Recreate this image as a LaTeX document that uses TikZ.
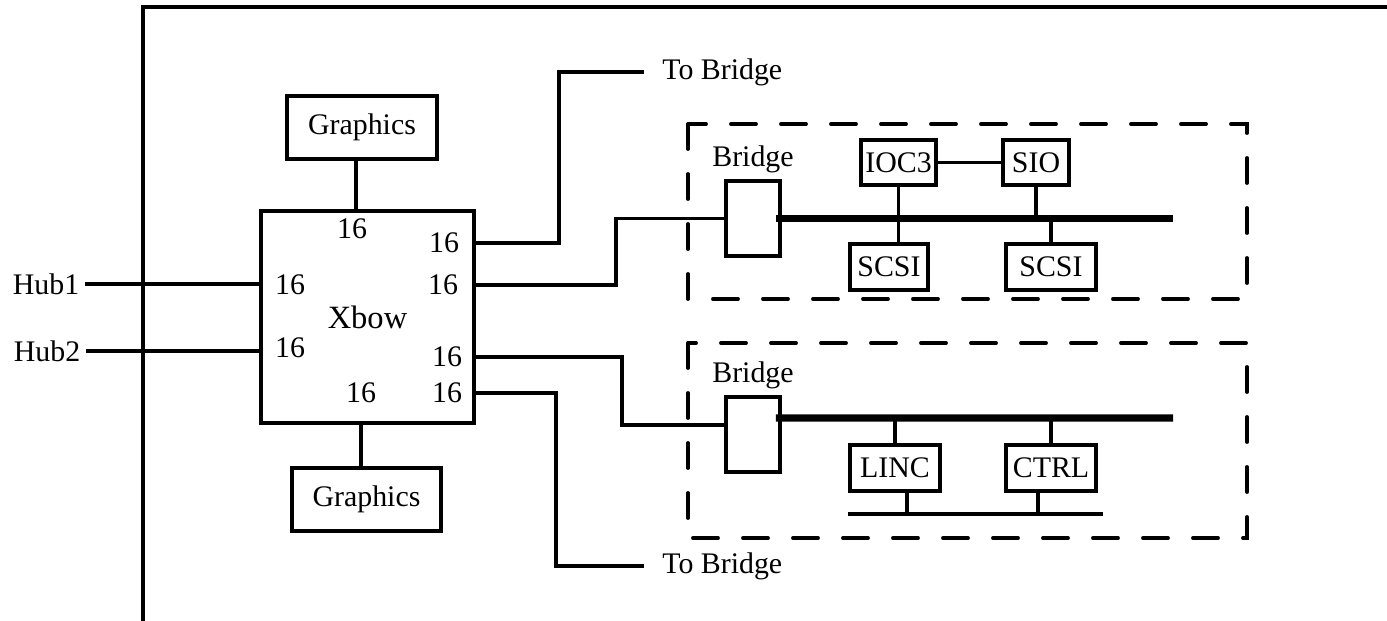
\documentclass[tikz,border=0pt]{standalone}
\usepackage{fontspec}
\setmainfont{Liberation Serif}
\usetikzlibrary{positioning}
\tikzset{
  lbl/.style={font=\fontsize{17}{20}\selectfont},
  port/.style={lbl, inner sep=1pt},
  unit/.style={rectangle, draw=black, line width=2pt, inner sep=0pt,
               align=center, font=\fontsize{17}{20}\selectfont},
  wire/.style={line width=2pt},
  bus/.style={line width=4pt},
  frame/.style={line width=2.2pt},
  grp/.style={line width=2.2pt, dash pattern=on 0.5cm off 0.5cm, line cap=round},
}

\begin{document}
\begin{tikzpicture}
\useasboundingbox (0,0) rectangle (27.74,-12.42);

%% =====================================================================
%% outer frame, open at the right and at the bottom
%% =====================================================================
\draw[frame] (27.74,-0.14) -| (2.86,-12.42);

%% =====================================================================
%% Xbow with its eight 16-bit ports
%% =====================================================================
\node[unit, minimum width=4.26cm, minimum height=4.24cm,
      font=\fontsize{18.5}{22}\selectfont] (xbow) at (7.35,-6.34) {Xbow};

\node[port] (p1) at (7.04,-4.58) {16};
\node[port] (p2) at (8.88,-4.86) {16};
\node[port] (p3) at (5.80,-5.70) {16};
\node[port] (p4) at (8.86,-5.70) {16};
\node[port] (p5) at (5.80,-6.96) {16};
\node[port] (p6) at (8.94,-7.14) {16};
\node[port] (p7) at (7.22,-7.86) {16};
\node[port] (p8) at (8.94,-7.86) {16};

%% graphics above and below
\node[unit, minimum width=3.00cm, minimum height=1.26cm] (gfxt) at (7.24,-2.55) {Graphics};
\node[unit, minimum width=2.98cm, minimum height=1.26cm] (gfxb) at (7.33,-9.99) {Graphics};
\draw[wire] ([xshift=-0.12cm]gfxt.south) -- ([xshift=-0.12cm]gfxt.south |- xbow.north);
\draw[wire] ([xshift=-0.11cm]gfxb.north) -- ([xshift=-0.11cm]gfxb.north |- xbow.south);

%% hubs on the left
\node[lbl] (hub1) at (0.92,-5.68) {Hub1};
\node[lbl] (hub2) at (0.94,-7.02) {Hub2};
\draw[wire] (hub1.east) -- (hub1 -| xbow.west);
\draw[wire] (hub2.east) -- (hub2 -| xbow.west);

%% links to other bridges
\node[lbl, anchor=west, inner xsep=0.36cm] (tbt) at (12.88,-1.44)  {To Bridge};
\node[lbl, anchor=west, inner xsep=0.36cm] (tbb) at (12.88,-11.32) {To Bridge};
\draw[wire] (p2 -| xbow.east) -- ++(1.66,0) |- (tbt.west);
\draw[wire] (p8 -| xbow.east) -- ++(1.60,0) |- (tbb.west);

%% =====================================================================
%% upper I/O group: Bridge, IOC3, SIO, two SCSI
%% =====================================================================
\draw[grp] (13.76,-2.48) rectangle (24.94,-5.98);

\node[unit, minimum width=1.08cm, minimum height=1.5cm] (br1) at (15.06,-4.37) {};
\node[lbl, above=0pt of br1] (br1l) {Bridge};
\coordinate (b1end) at (23.46,-4.37);
\draw[bus] ([xshift=-0.12cm]br1.east) -- (b1end);

\node[unit, minimum width=1.50cm, minimum height=0.90cm] (ioc3)  at (17.97,-3.25) {IOC3};
\node[unit, minimum width=1.32cm, minimum height=0.90cm] (sio)   at (20.72,-3.25) {SIO};
\node[unit, minimum width=1.56cm, minimum height=0.92cm] (scsi1) at (17.78,-5.34) {SCSI};
\node[unit, minimum width=1.80cm, minimum height=0.92cm] (scsi2) at (21.02,-5.34) {SCSI};

\draw[wire] (ioc3.east) -- (sio.west);
\draw[wire] (ioc3.south) -- (ioc3.south |- scsi1.north);
\draw[wire] (sio.south) -- (sio.south |- b1end);
\draw[wire] (scsi2.north) -- (scsi2.north |- b1end);

\draw[wire] (p4 -| xbow.east) -- ++(2.80,0) |- (br1.west);

%% =====================================================================
%% lower I/O group: Bridge, LINC, CTRL
%% =====================================================================
\draw[grp] (13.76,-6.86) rectangle (24.94,-10.76);

\node[unit, minimum width=1.08cm, minimum height=1.5cm] (br2) at (15.06,-8.69) {};
\node[lbl, above=0pt of br2] (br2l) {Bridge};
\coordinate (b2end) at (23.46,-8.36);
\draw[bus] ([xshift=-0.12cm, yshift=0.33cm]br2.east) -- (b2end);

\node[unit, minimum width=1.80cm, minimum height=0.92cm] (linc) at (17.90,-9.36) {LINC};
\node[unit, minimum width=1.80cm, minimum height=0.92cm] (ctrl) at (21.02,-9.36) {CTRL};

\draw[wire] (linc.north) -- (linc.north |- b2end);
\draw[wire] (ctrl.north) -- (ctrl.north |- b2end);

%% local bus below LINC and CTRL
\coordinate (l2a) at (16.96,-10.28);
\coordinate (l2b) at (22.06,-10.28);
\draw[wire] (l2a) -- (l2b);
\draw[wire] ([xshift=0.24cm]linc.south) -- ([xshift=0.24cm]linc.south |- l2a);
\draw[wire] ([xshift=-0.26cm]ctrl.south) -- ([xshift=-0.26cm]ctrl.south |- l2a);

\draw[wire] (p6 -| xbow.east) -- ++(2.92,0) |- ([yshift=0.19cm]br2.west);

\end{tikzpicture}
\end{document}
